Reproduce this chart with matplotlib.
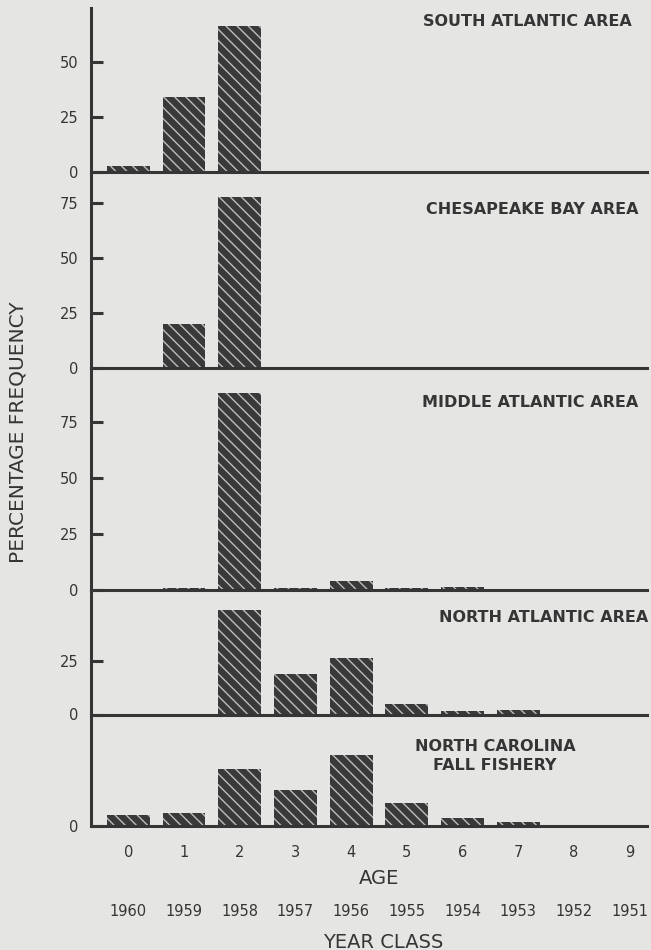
import matplotlib.pyplot as plt
from matplotlib import transforms

ages = [0, 1, 2, 3, 4, 5, 6, 7, 8, 9]
age_labels = ["0", "1", "2", "3", "4", "5", "6", "7", "8", "9"]
year_class = ["1960", "1959", "1958", "1957", "1956",
              "1955", "1954", "1953", "1952", "1951"]

# percentage frequency by age
south_atlantic = [2.5, 34, 66, 0, 0, 0, 0, 0, 0, 0]
chesapeake_bay = [0, 20, 78, 0, 0, 0, 0, 0, 0, 0]
middle_atlantic = [0, 1, 88, 1, 4, 1, 1.5, 0, 0, 0]
north_atlantic = [0, 0, 49, 19, 26.5, 5, 1.5, 2, 0, 0]
north_carolina = [5, 6, 26, 16.5, 32.5, 10.5, 3.5, 2, 0, 0]

INK = "#353535"
BG = "#e5e5e3"
W, H = 651, 950

plt.rcParams["hatch.color"] = "#bdbdbb"
plt.rcParams["hatch.linewidth"] = 1.0
plt.rcParams["font.family"] = "DejaVu Sans"

fig = plt.figure(figsize=(W / 100, H / 100), dpi=100, facecolor=BG)


def px(x, y):
    # pixel position (from top left) -> figure fraction
    return x / W, 1 - y / H


x_left, x_right = 91, 647
edges = [8, 171.7, 368.3, 590, 714.5, 826]
panels = [
    (south_atlantic, 74.4, [0, 25, 50]),
    (chesapeake_bay, 89.4, [0, 25, 50, 75]),
    (middle_atlantic, 99, [0, 25, 50, 75]),
    (north_atlantic, 58.5, [0, 25]),
    (north_carolina, 50.7, [0]),
]

axes = []
for i, (vals, ymax, yt) in enumerate(panels):
    top, bot = edges[i], edges[i + 1]
    ax = fig.add_axes([x_left / W, 1 - bot / H, (x_right - x_left) / W, (bot - top) / H])
    ax.set_facecolor("none")
    ax.bar(ages, vals, width=0.77, color="#393939", hatch="\\\\\\")
    ax.set_xlim(-0.67, 9.31)
    ax.set_ylim(0, ymax)
    ax.set_yticks(yt)
    ax.spines[["top", "right"]].set_visible(False)
    for s in ["left", "bottom"]:
        ax.spines[s].set_linewidth(2.2)
        ax.spines[s].set_color(INK)
    ax.tick_params(axis="y", direction="in", length=8.6, width=2.2, pad=9,
                   labelsize=10.5, colors=INK)
    ax.tick_params(axis="x", length=0)
    ax.set_xticks([])
    axes.append(ax)

ax5 = axes[-1]
ax5.set_xticks(ages, age_labels)
ax5.tick_params(axis="x", length=0, pad=14, labelsize=10.5, labelcolor=INK)

trans = transforms.blended_transform_factory(ax5.transData, fig.transFigure)
for a, yr in zip(ages, year_class):
    ax5.text(a, 1 - 912 / H, yr, transform=trans, ha="center", va="center",
             fontsize=10.5, color=INK)

fig.text(*px(379, 879), "AGE", ha="center", va="center", fontsize=14, color=INK)
fig.text(*px(383, 942), "YEAR CLASS", ha="center", va="center", fontsize=14, color=INK)
fig.text(*px(18, 432), "PERCENTAGE FREQUENCY", rotation=90, ha="center",
         va="center", fontsize=14.5, color=INK)

title_kw = dict(ha="right", va="center", fontsize=11.5, fontweight="bold", color=INK)
fig.text(*px(632, 22), "SOUTH ATLANTIC AREA", **title_kw)
fig.text(*px(638, 209), "CHESAPEAKE BAY AREA", **title_kw)
fig.text(*px(638, 402), "MIDDLE ATLANTIC AREA", **title_kw)
fig.text(*px(648, 617), "NORTH ATLANTIC AREA", **title_kw)
fig.text(*px(495, 756), "NORTH CAROLINA\nFALL FISHERY", ha="center", va="center",
         fontsize=11.5, fontweight="bold", color=INK, linespacing=1.3)

fig.savefig("out.png", dpi=100, facecolor=BG)
